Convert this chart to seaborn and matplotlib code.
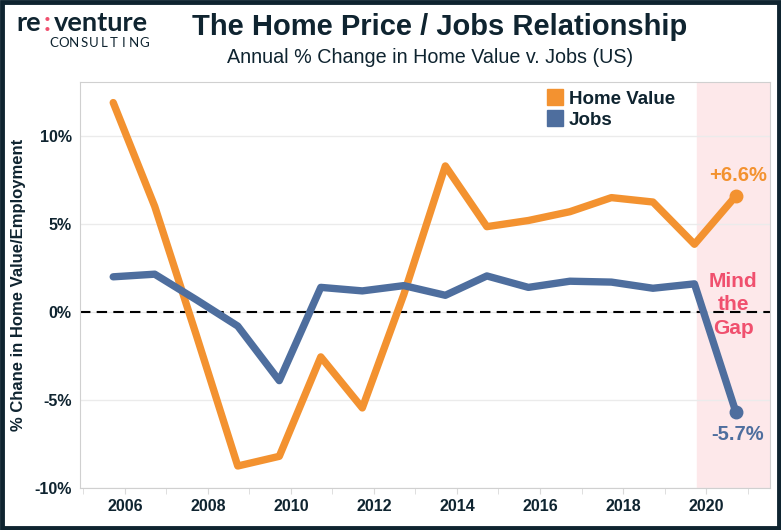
import pandas as pd
import numpy as np
import matplotlib.pyplot as plt
import seaborn as sns

# year-ending readings (plotted a bit past each year's tick)
years = [2005, 2006, 2007, 2008, 2009, 2010, 2011, 2012,
         2013, 2014, 2015, 2016, 2017, 2018, 2019, 2020]
home_value = [11.9, 6.0, -1.3, -8.75, -8.2, -2.55, -5.45, 1.0,
              8.3, 4.85, 5.2, 5.7, 6.5, 6.25, 3.85, 6.6]
jobs = [2.0, 2.15, 0.7, -0.8, -3.9, 1.4, 1.2, 1.5,
        0.95, 2.05, 1.4, 1.75, 1.7, 1.35, 1.6, -5.7]
tick_years = [2006, 2008, 2010, 2012, 2014, 2016, 2018, 2020]

orange = "#F39230"
blue = "#4E6E9E"
navy = "#0F2430"
pink = "#F0506E"

df = pd.DataFrame({"year": np.array(years) + 0.72,
                   "Home Value": home_value, "Jobs": jobs})
long = df.melt(id_vars="year", var_name="series", value_name="pct")

sns.set_style("white")
plt.rcParams["font.family"] = ["Liberation Sans", "DejaVu Sans"]

fig = plt.figure(figsize=(7.81, 5.30), dpi=100)
ax = fig.add_axes([80 / 781, 42 / 530, 690 / 781, 406 / 530])

ax.axvspan(2019.78, 2021.6, color="#FDE8EA", zorder=0)

sns.lineplot(data=long, x="year", y="pct", hue="series",
             palette={"Home Value": orange, "Jobs": blue},
             linewidth=5.3, ax=ax, legend=False, zorder=3)
ax.plot(df["year"].iloc[-1], home_value[-1], "o", color=orange, ms=9, zorder=4)
ax.plot(df["year"].iloc[-1], jobs[-1], "o", color=blue, ms=9, zorder=4)

ax.axhline(0, color="black", ls=(0, (5, 3)), lw=1.5, zorder=2)

ax.set_xlim(2004.92, 2021.54)
ax.set_ylim(-10.0, 13.07)
ax.set_yticks([-10, -5, 0, 5, 10])
ax.set_yticklabels(["-10%", "-5%", "0%", "5%", "10%"])
ax.set_xticks(tick_years)
ax.set_xticklabels([str(y) for y in tick_years])
ax.set_xticks(range(2005, 2022), minor=True)
ax.grid(True, axis="y", color="#EBEBEB", lw=1)
ax.grid(False, axis="x")
ax.tick_params(axis="y", length=0, labelsize=11.5, labelcolor=navy, pad=6)
ax.tick_params(axis="x", which="both", length=4, color="#D9D9D9",
               direction="out", bottom=True, labelsize=11.5,
               labelcolor=navy, pad=4)
for lab in ax.get_xticklabels() + ax.get_yticklabels():
    lab.set_fontweight("bold")
for s in ax.spines.values():
    s.set_color("#D0D0D0")
ax.set_xlabel("")
ax.set_ylabel("% Chane in Home Value/Employment", fontsize=12,
              fontweight="bold", color=navy)
ax.yaxis.set_label_coords(-0.078, 0.5)

# legend
ax.plot([], [], "s", color=orange, ms=12, label="Home Value")
ax.plot([], [], "s", color=blue, ms=12, label="Jobs")
ax.legend(loc="upper right", bbox_to_anchor=(0.887, 1.02), frameon=False,
          prop={"weight": "bold", "size": 13.5}, handletextpad=0.25,
          labelspacing=0.2, handlelength=1.0, labelcolor=navy)

ax.text(df["year"].iloc[-1] + 0.05, 7.75, "+6.6%", color=orange,
        fontsize=14.5, fontweight="bold", ha="center", va="center")
ax.text(df["year"].iloc[-1] + 0.05, -6.95, "-5.7%", color=blue,
        fontsize=14.5, fontweight="bold", ha="center", va="center")
ax.text(2020.65, 0.4, "Mind\nthe\nGap", color=pink, fontsize=15,
        fontweight="bold", ha="center", va="center", linespacing=1.28)

# title block
fig.text(0.563, 0.949, "The Home Price / Jobs Relationship", ha="center",
         va="center", fontsize=21, fontweight="bold", color=navy)
fig.text(0.551, 0.892, "Annual % Change in Home Value v. Jobs (US)",
         ha="center", va="center", fontsize=14.2, color=navy)

# logo: re:venture with a pink colon, then spaced CONSULTING
fig.canvas.draw()
rend = fig.canvas.get_renderer()
x = 16
for part, col, gap in [("re", navy, 3), (":", pink, 3), ("venture", navy, 0)]:
    t = fig.text(x / 781, 1 - 23 / 530, part, fontsize=19.5, fontweight="bold",
                 color=col, va="center", ha="left", family="Lato")
    x = t.get_window_extent(rend).x1 + gap
step = 10.0
for i, ch in enumerate("CONSULTING"):
    fig.text((54 + i * step) / 781, 1 - 43 / 530, ch, fontsize=9.5,
             color=navy, va="center", ha="center", family="Lato")

fig.patches.append(plt.Rectangle((0.002, 0.003), 0.996, 0.994,
                                 transform=fig.transFigure, fill=False,
                                 edgecolor=navy, lw=3.5))

fig.savefig("out.png", dpi=100)
